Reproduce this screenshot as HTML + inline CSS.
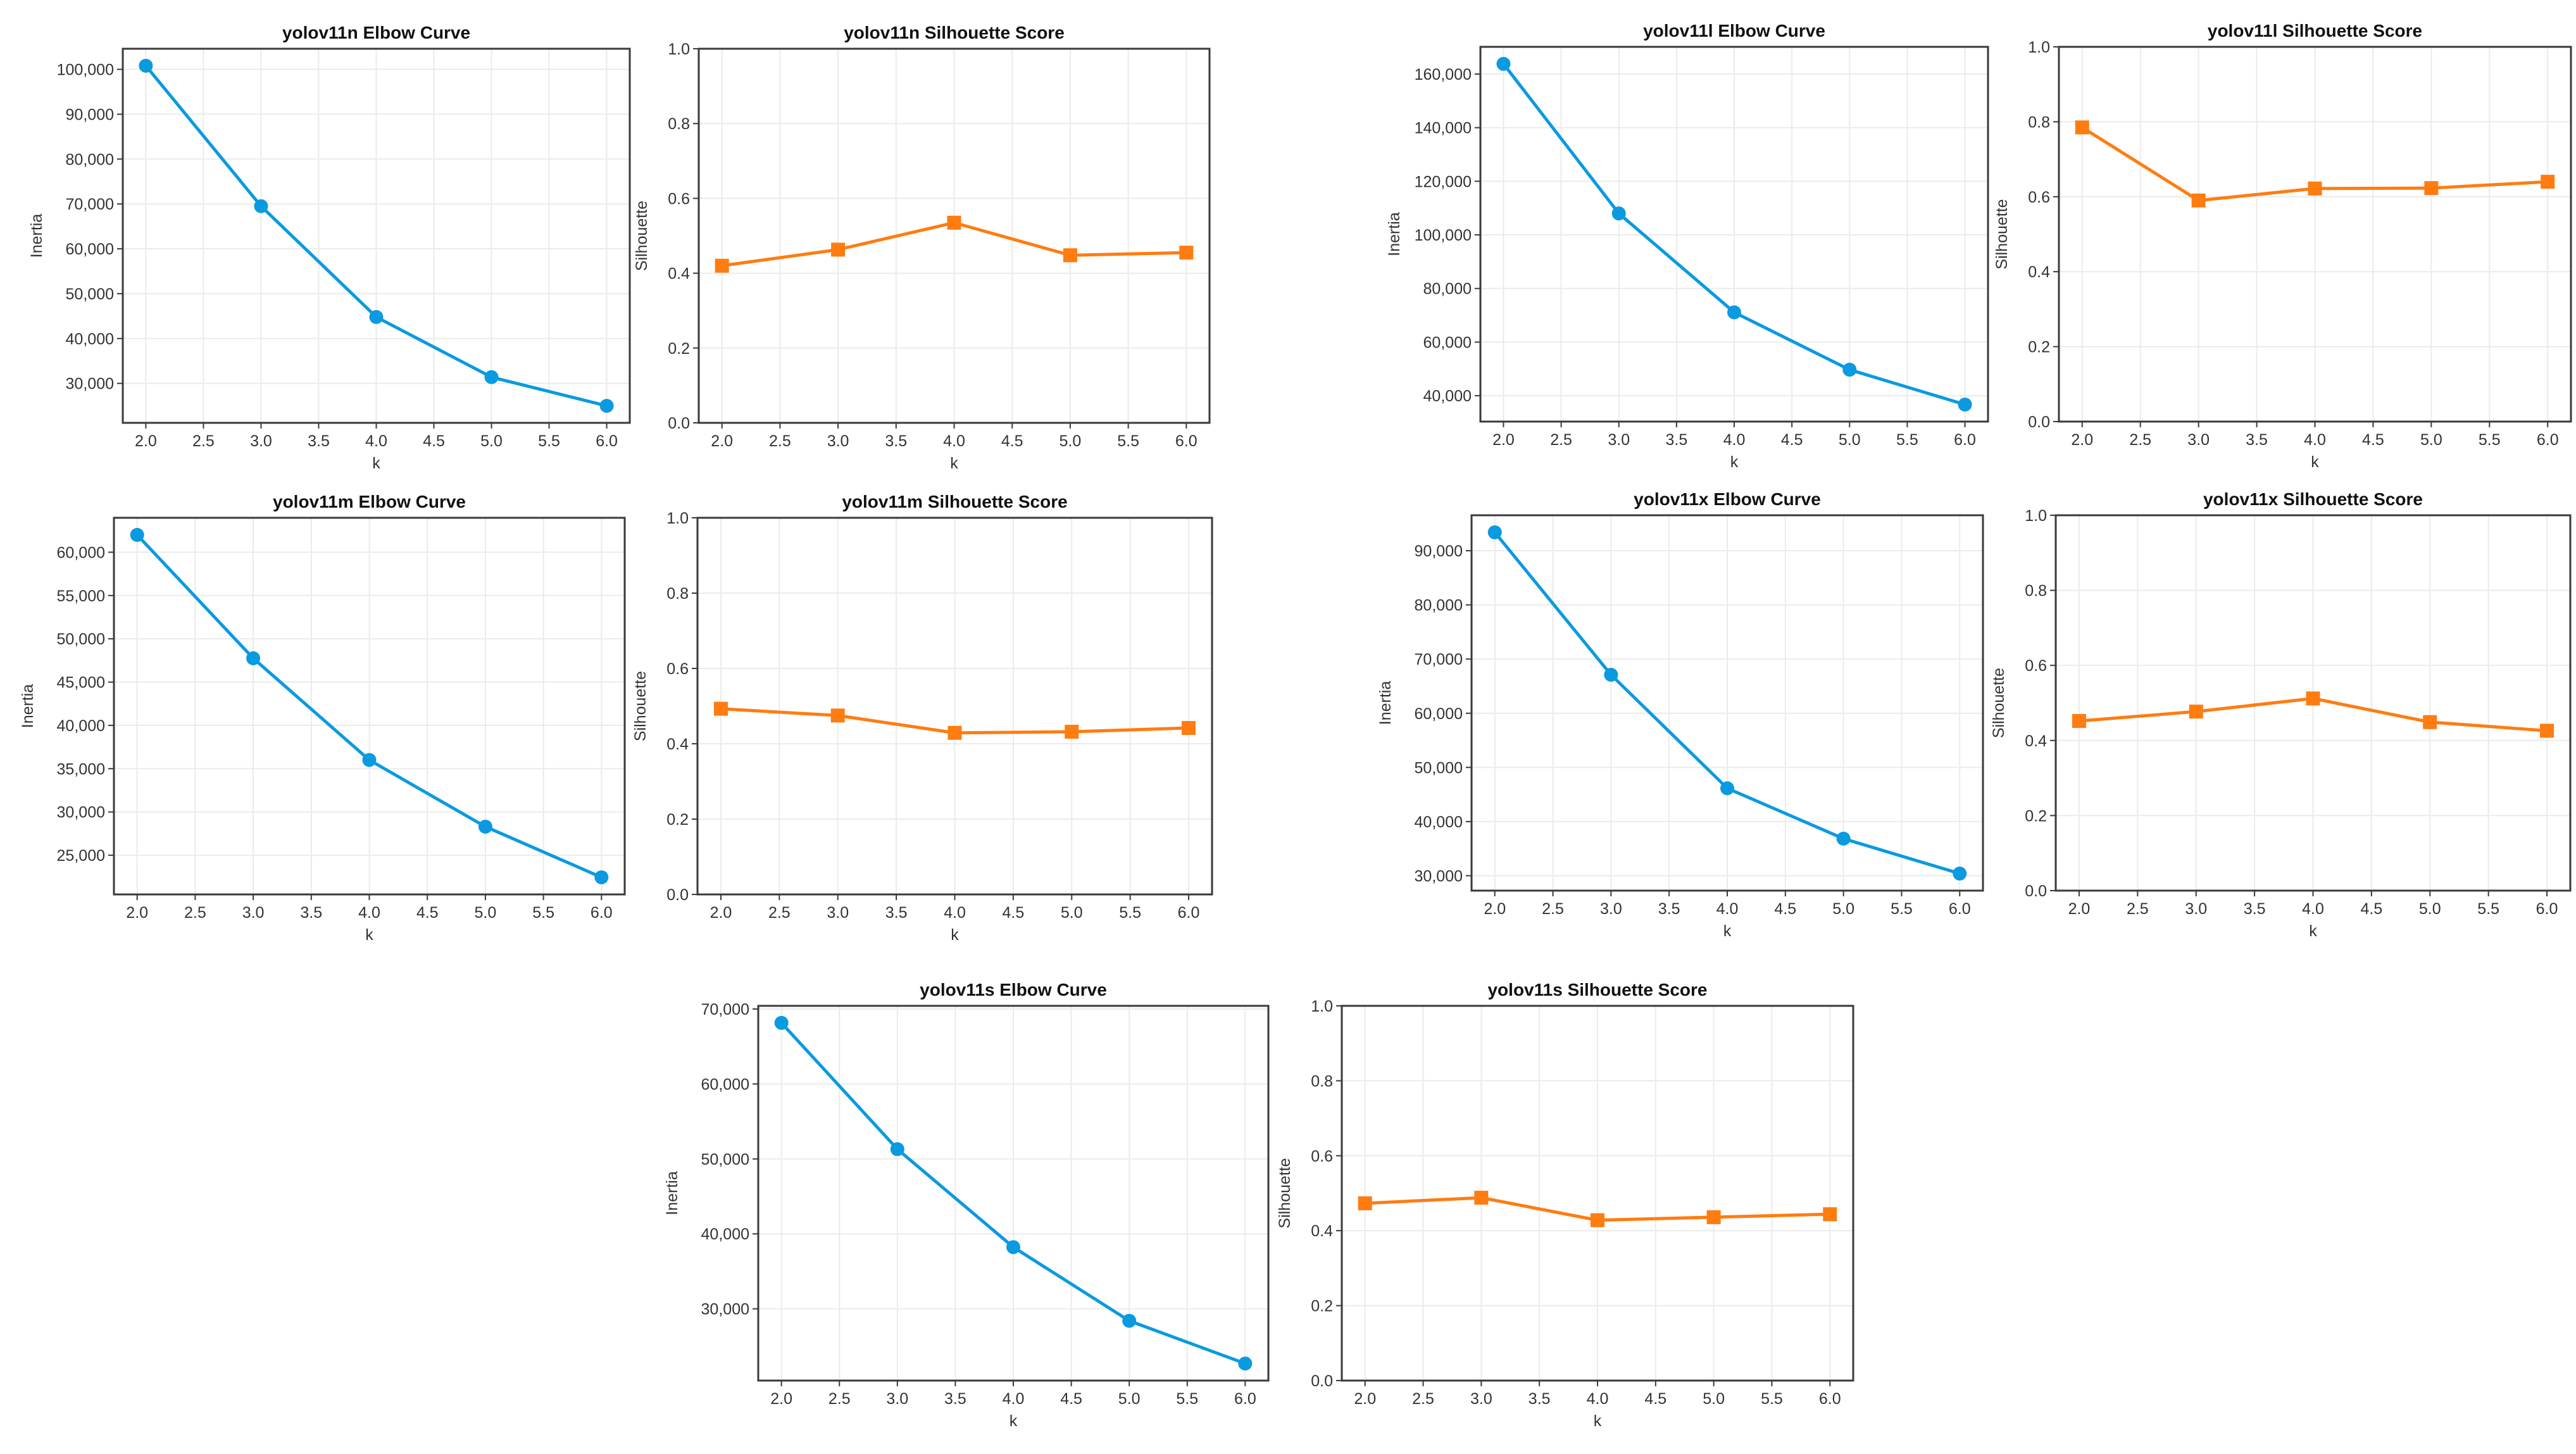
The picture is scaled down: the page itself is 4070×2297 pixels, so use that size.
<!DOCTYPE html>
<html><head><meta charset="utf-8">
<style>
html,body{margin:0;padding:0;background:#fff;}
svg{display:block;font-family:"Liberation Sans",sans-serif;}
</style></head>
<body>
<svg id="fig" width="4070" height="2297" viewBox="0 0 4070 2297" xmlns="http://www.w3.org/2000/svg"></svg>
<script>
// ---- data ----
const kValues = [2, 3, 4, 5, 6];
const xTickLabels = ["2.0","2.5","3.0","3.5","4.0","4.5","5.0","5.5","6.0"];
const xTickValues = [2, 2.5, 3, 3.5, 4, 4.5, 5, 5.5, 6];
const silTicks = [0, 0.2, 0.4, 0.6, 0.8, 1.0];

const inertiaN = [100800, 69500, 44800, 31400, 25000];
const silN = [0.42, 0.463, 0.535, 0.448, 0.455];
const inertiaL = [163800, 108000, 71100, 49700, 36700];
const silL = [0.785, 0.59, 0.622, 0.623, 0.64];
const inertiaM = [62000, 47750, 36000, 28300, 22450];
const silM = [0.493, 0.475, 0.429, 0.432, 0.442];
const inertiaX = [93400, 67100, 46150, 36850, 30400];
const silX = [0.452, 0.477, 0.512, 0.449, 0.426];
const inertiaS = [68150, 51300, 38230, 28400, 22700];
const silS = [0.473, 0.488, 0.428, 0.436, 0.444];

const ticksN = [30000, 40000, 50000, 60000, 70000, 80000, 90000, 100000];
const ticksL = [40000, 60000, 80000, 100000, 120000, 140000, 160000];
const ticksM = [25000, 30000, 35000, 40000, 45000, 50000, 55000, 60000];
const ticksX = [30000, 40000, 50000, 60000, 70000, 80000, 90000];
const ticksS = [30000, 40000, 50000, 60000, 70000];

const NS = "http://www.w3.org/2000/svg";
const svg = document.getElementById("fig");
function mk(tag, attrs, parent) {
  const e = document.createElementNS(NS, tag);
  for (const k in attrs) e.setAttribute(k, attrs[k]);
  (parent || svg).appendChild(e);
  return e;
}
function fmt(v, sil) {
  return sil ? v.toFixed(1) : v.toLocaleString("en-US");
}

function panel(name, title, box, values, ticks, sil) {
  const [L, T, R, B] = box;
  const g = mk("g", {});
  
  
  let ymin, ymax;
  if (sil) { ymin = 0; ymax = 1; }
  else {
    const lo = Math.min(...values), hi = Math.max(...values), r = hi - lo;
    ymin = lo - 0.05 * r; ymax = hi + 0.05 * r;
  }
  const xmin = 1.8, xmax = 6.2;
  const sx = v => L + (v - xmin) / (xmax - xmin) * (R - L);
  const sy = v => B - (v - ymin) / (ymax - ymin) * (B - T);
  // grid
  xTickValues.forEach(v => {
    const ln = mk("line", {x1: sx(v), x2: sx(v), y1: T, y2: B, stroke: "#ebebeb", "stroke-width": 2}, g);
    
    
  });
  ticks.forEach(v => {
    const ln = mk("line", {x1: L, x2: R, y1: sy(v), y2: sy(v), stroke: "#ebebeb", "stroke-width": 2}, g);
    
    
  });
  // frame
  const fr = mk("rect", {x: L, y: T, width: R - L, height: B - T, fill: "none", stroke: "#3a3a3a", "stroke-width": 3}, g);
  
  
  // x ticks
  xTickValues.forEach((v, i) => {
    mk("line", {x1: sx(v), x2: sx(v), y1: B, y2: B + 9, stroke: "#3a3a3a", "stroke-width": 2}, g);
    const t = mk("text", {x: sx(v), y: B + 37, "text-anchor": "middle", "font-size": 25, fill: "#333"}, g);
    t.textContent = xTickLabels[i];
    
    
  });
  // y ticks
  ticks.forEach(v => {
    mk("line", {x1: L - 9, x2: L, y1: sy(v), y2: sy(v), stroke: "#3a3a3a", "stroke-width": 2}, g);
    const t = mk("text", {x: L - 14, y: sy(v) + 9, "text-anchor": "end", "font-size": 25, fill: "#333"}, g);
    t.textContent = fmt(v, sil);
    
    
  });
  // title
  const tt = mk("text", {x: (L + R) / 2, y: T - 16, "text-anchor": "middle", "font-size": 28, "font-weight": "bold", fill: "#111"}, g);
  tt.textContent = title;
  
  
  // axis labels
  const xl = mk("text", {x: (L + R) / 2, y: B + 72, "text-anchor": "middle", "font-size": 25, fill: "#333"}, g);
  xl.textContent = "k";
  
  
  const lx = sil ? L - 82 : L - 128;
  const yl = mk("text", {x: lx, y: (T + B) / 2, "text-anchor": "middle", "font-size": 25, fill: "#333", transform: `rotate(-90 ${lx} ${(T + B) / 2})`}, g);
  yl.textContent = sil ? "Silhouette" : "Inertia";
  
  
  // series
  const color = sil ? "#ff7c10" : "#0a9ae0";
  const pts = values.map((v, i) => sx(kValues[i]) + "," + sy(v)).join(" ");
  const pl = mk("polyline", {points: pts, fill: "none", stroke: color, "stroke-width": 5, "stroke-linejoin": "round"}, g);
  
  
  values.forEach((v, i) => {
    let m;
    if (sil) m = mk("rect", {x: sx(kValues[i]) - 11, y: sy(v) - 11, width: 22, height: 22, fill: color}, g);
    else m = mk("circle", {cx: sx(kValues[i]), cy: sy(v), r: 11, fill: color}, g);
    
    
  });
}

panel("yolov11n-elbow", "yolov11n Elbow Curve", [194, 77, 995, 668], inertiaN, ticksN, false);
panel("yolov11n-silhouette", "yolov11n Silhouette Score", [1104, 77, 1911, 668], silN, silTicks, true);
panel("yolov11l-elbow", "yolov11l Elbow Curve", [2339, 74, 3141, 666], inertiaL, ticksL, false);
panel("yolov11l-silhouette", "yolov11l Silhouette Score", [3253, 74, 4062, 666], silL, silTicks, true);
panel("yolov11m-elbow", "yolov11m Elbow Curve", [180, 818, 987, 1413], inertiaM, ticksM, false);
panel("yolov11m-silhouette", "yolov11m Silhouette Score", [1102, 818, 1915, 1413], silM, silTicks, true);
panel("yolov11x-elbow", "yolov11x Elbow Curve", [2325, 814, 3133, 1407], inertiaX, ticksX, false);
panel("yolov11x-silhouette", "yolov11x Silhouette Score", [3248, 814, 4061, 1407], silX, silTicks, true);
panel("yolov11s-elbow", "yolov11s Elbow Curve", [1198, 1589, 2004, 2181], inertiaS, ticksS, false);
panel("yolov11s-silhouette", "yolov11s Silhouette Score", [2120, 1589, 2928, 2181], silS, silTicks, true);
</script>
</body></html>
